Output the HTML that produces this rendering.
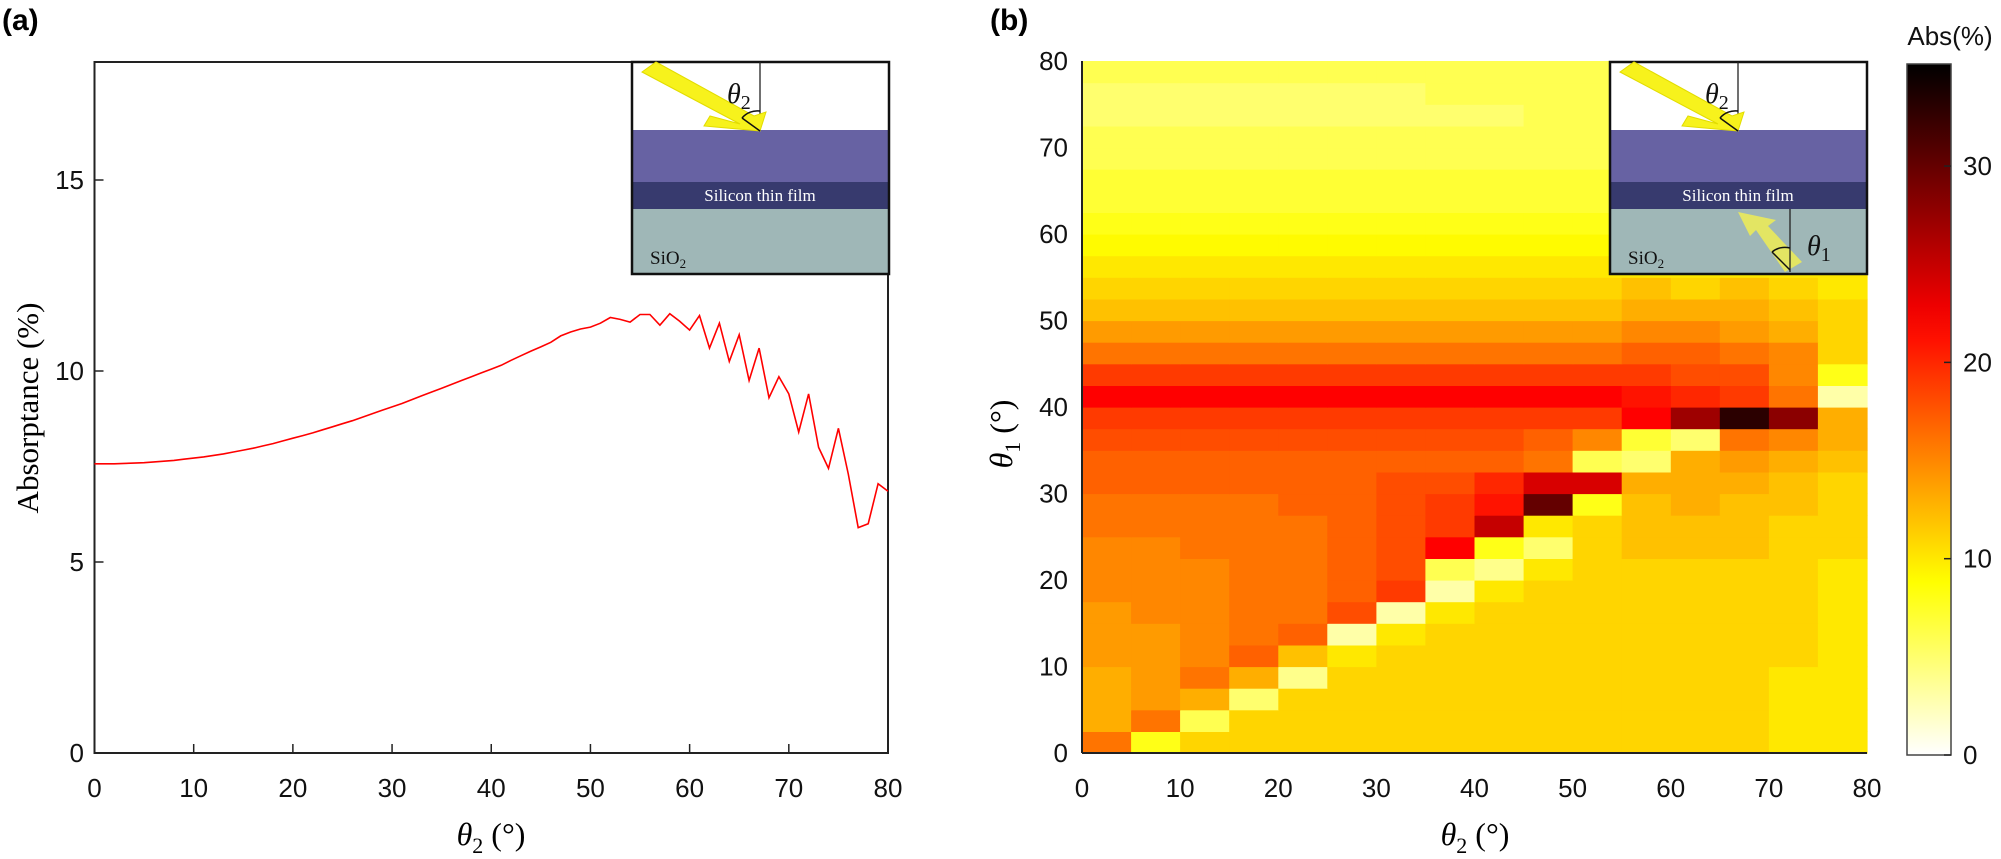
<!DOCTYPE html>
<html><head><meta charset="utf-8"><style>
html,body{margin:0;padding:0;background:#fff;}
svg{display:block;}
.tk{font-family:"Liberation Sans",Arial,sans-serif;font-size:26px;fill:#111;}
.ser{font-family:"Liberation Serif",serif;}
</style></head><body>
<svg id="fig" width="2001" height="859" viewBox="0 0 2001 859" xmlns="http://www.w3.org/2000/svg">
<text x="2" y="30" style="font-family:'Liberation Sans',sans-serif;font-weight:bold;font-size:30px">(a)</text>
<text x="990" y="30" style="font-family:'Liberation Sans',sans-serif;font-weight:bold;font-size:30px">(b)</text>
<g id="chartA"></g>
<g id="chartB"></g>
</svg>
<script>
// ---------- Panel (a) data ----------
const thetaA = Array.from({length:81},(_,i)=>i);
const absorptance = [7.57,7.57,7.57,7.58,7.59,7.6,7.62,7.64,7.66,7.69,7.72,
7.75,7.79,7.83,7.88,7.93,7.98,8.04,8.1,8.17,8.24,
8.31,8.38,8.46,8.54,8.62,8.7,8.79,8.88,8.97,9.06,
9.15,9.25,9.35,9.45,9.55,9.65,9.75,9.85,9.95,10.05,
10.15,10.28,10.4,10.52,10.63,10.75,10.92,11.02,11.1,11.15,
11.25,11.4,11.35,11.28,11.48,11.48,11.2,11.5,11.3,11.07,11.45,
10.6,11.25,10.25,10.95,9.75,10.6,9.3,9.85,9.4,8.4,9.4,8.0,7.45,8.5,7.3,5.9,6.0,7.05,6.85];
const xTicksA = [0,10,20,30,40,50,60,70,80];
const yTicksA = [0,5,10,15];

// ---------- Panel (b) data: rows of 2.5 deg (theta1, bottom->top), cols of 5 deg (theta2) ----------
const theta2Cols = [0,5,10,15,20,25,30,35,40,45,50,55,60,65,70,75];
const theta1Rows = Array.from({length:32},(_,i)=>i*2.5);
const absGrid = [
[16,8,11,11,11,11,11,11,11,11,11,11,11,11,10,10],
[13,16,6,11,11,11,11,11,11,11,11,11,11,11,10,10],
[13,14,13,5,11,11,11,11,11,11,11,11,11,11,10,10],
[13,14,16,13,4,11,11,11,11,11,11,11,11,11,10,10],
[14,14,15,17,12,10,11,11,11,11,11,11,11,11,11,10],
[14,14,15,16,17,3,10,11,11,11,11,11,11,11,11,10],
[14,15,15,16,16,18,3,10,11,11,11,11,11,11,11,10],
[15,15,15,16,16,17,19,3,10,11,11,11,11,11,11,10],
[15,15,15,16,16,17,18,6,4,10,11,11,11,11,11,10],
[15,15,16,16,16,17,18,22,8,5,11,12,12,12,11,11],
[16,16,16,16,16,17,18,19,25,10,11,12,12,12,11,11],
[16,16,16,16,17,17,18,19,21,30,8,12,13,12,12,11],
[17,17,17,17,17,17,18,18,20,24,24,13,13,13,12,11],
[17,17,17,17,17,17,17,17,17,16,6,5,13,14,13,12],
[18,18,18,18,18,18,18,18,18,17,15,7,5,16,15,13],
[19,19,19,19,19,19,19,19,19,19,19,22,27,33,28,13],
[22,22,22,22,22,22,22,22,22,22,22,21,20,19,16,3],
[19,19,19,19,19,19,19,19,19,19,19,19,18,18,15,8],
[16,16,16,16,16,16,16,16,16,16,16,17,17,16,15,11],
[14,14,14,14,14,14,14,14,14,14,14,15,15,14,13,11],
[12,12,12,12,12,12,12,12,12,12,12,13,13,13,12,11],
[11,11,11,11,11,11,11,11,11,11,11,12,11,12,11,10],
[10,10,10,10,10,10,10,10,10,10,10,10,10,10,10,10],
[9,9,9,9,9,9,9,9,9,9,9,9,9,9,9,9],
[8,8,8,8,8,8,8,8,8,8,8,8,8,8,8,8],
[7,7,7,7,7,7,7,7,7,7,7,7,7,7,7,7],
[7,7,7,7,7,7,7,7,7,7,7,7,7,7,7,7],
[6,6,6,6,6,6,6,6,6,6,6,6,6,7,7,7],
[6,6,6,6,6,6,6,6,6,6,6,6,6,6,6,6],
[5,5,5,5,5,5,5,5,5,6,6,6,6,6,6,6],
[5,5,5,5,5,5,5,6,6,6,6,6,6,6,6,6],
[6,6,6,6,6,6,6,6,6,6,6,6,6,6,6,6]];
const xTicksB = [0,10,20,30,40,50,60,70,80];
const yTicksB = [0,10,20,30,40,50,60,70,80];
const cbTicks = [0,10,20,30];
const cbMax = 35.2;

const NS="http://www.w3.org/2000/svg";
function mk(tag,attrs,parent,text){const e=document.createElementNS(NS,tag);for(const k in attrs)e.setAttribute(k,attrs[k]);if(text!==undefined)e.textContent=text;parent.appendChild(e);return e;}

// reversed "hot" colormap
function hotR(v){let t=1-Math.max(0,Math.min(1,v/cbMax));
 let r=Math.min(1,t/0.375),g=Math.max(0,Math.min(1,(t-0.375)/0.375)),b=Math.max(0,Math.min(1,(t-0.75)/0.25));
 return `rgb(${Math.round(r*255)},${Math.round(g*255)},${Math.round(b*255)})`;}

// ---------- Panel A ----------
const A=document.getElementById('chartA');
const ax0=94.5, ax1=888, ay0=753, ayTop=62;
const xA=v=>ax0+(v/80)*(ax1-ax0);
const yA=v=>ay0-v*38.2;
let e;
e=mk('rect',{x:ax0,y:ayTop,width:ax1-ax0,height:ay0-ayTop,fill:'#fff',stroke:'#222','stroke-width':2},A);

xTicksA.forEach(t=>{
 e=mk('line',{x1:xA(t),x2:xA(t),y1:ay0,y2:ay0-9,stroke:'#222','stroke-width':1.5},A);
 
 e=mk('text',{x:xA(t),y:797,'text-anchor':'middle',class:'tk'},A,String(t));
 
});
yTicksA.forEach(t=>{
 e=mk('line',{x1:ax0,x2:ax0+9,y1:yA(t),y2:yA(t),stroke:'#222','stroke-width':1.5},A);
 
 e=mk('text',{x:84,y:yA(t)+9,'text-anchor':'end',class:'tk'},A,String(t));
 
});
e=mk('polyline',{points:thetaA.map((t,i)=>xA(t).toFixed(1)+','+yA(absorptance[i]).toFixed(1)).join(' '),fill:'none',stroke:'#f00','stroke-width':1.6},A);

e=mk('text',{x:0,y:0,transform:'translate(38,408) rotate(-90)','text-anchor':'middle',class:'ser','font-size':'31'},A,'Absorptance (%)');

e=mk('text',{x:491,y:845,'text-anchor':'middle',class:'ser','font-size':'32'},A);
e.innerHTML='<tspan font-style="italic">θ</tspan><tspan font-size="22" dy="8">2</tspan><tspan dy="-8"> (°)</tspan>';


// inset drawing
function inset(parent,x0,withTheta1,name){
 const g=mk('g',{},parent);
 
 const w=257;
 mk('rect',{x:x0,y:62,width:w,height:68,fill:'#fff'},g);
 mk('rect',{x:x0,y:130,width:w,height:52,fill:'#6762a3'},g);
 mk('rect',{x:x0,y:182,width:w,height:27,fill:'#373a6e'},g);
 mk('rect',{x:x0,y:209,width:w,height:65,fill:'#9fb7b7'},g);
 mk('rect',{x:x0,y:62,width:w,height:212,fill:'none',stroke:'#111','stroke-width':2.5},g);
 const vx=x0+128;
 mk('line',{x1:vx,x2:vx,y1:62,y2:131,stroke:'#222','stroke-width':1.3},g);
 mk('polygon',{points:`${x0+10},${72} ${x0+24},${62} ${vx-6},${116} ${vx+6},${112} ${vx},${131} ${x0+72},${126} ${x0+78},${116} ${vx-20},${124}`,fill:'#f7f21c',stroke:'#e2dc00','stroke-width':1},g);
 mk('path',{d:`M ${vx-18} ${118} A 20 20 0 0 1 ${vx} ${111}`,fill:'none',stroke:'#111','stroke-width':1.5},g);
 mk('line',{x1:vx-18,y1:118,x2:vx,y2:131,stroke:'#111','stroke-width':1.5},g);
 let t=mk('text',{x:x0+95,y:103,class:'ser','font-size':'28','font-style':'italic',fill:'#111'},g);
 t.innerHTML='θ<tspan font-size="20" dy="6" font-style="normal">2</tspan>';
 mk('text',{x:x0+128,y:201,'text-anchor':'middle',class:'ser','font-size':'17',fill:'#fff'},g,'Silicon thin film');
 t=mk('text',{x:x0+18,y:264,class:'ser','font-size':'19',fill:'#111'},g);
 t.innerHTML='SiO<tspan font-size="13" dy="4">2</tspan>';
 if(withTheta1){
  const bx=x0+180;
  mk('polygon',{points:`${bx-5},${272} ${bx+12},${262} ${bx-22},${226} ${bx-14},${220} ${bx-52},${212} ${bx-40},${236} ${bx-34},${230}`,fill:'#eaea5a',opacity:0.9},g);
  mk('line',{x1:bx,x2:bx,y1:209,y2:272,stroke:'#222','stroke-width':1.3},g);
  mk('path',{d:`M ${bx-18} ${252} A 20 20 0 0 1 ${bx} ${248}`,fill:'none',stroke:'#111','stroke-width':1.5},g);
  mk('line',{x1:bx-18,y1:252,x2:bx,y2:270,stroke:'#111','stroke-width':1.5},g);
  t=mk('text',{x:bx+17,y:255,class:'ser','font-size':'28','font-style':'italic',fill:'#111'},g);
  t.innerHTML='θ<tspan font-size="20" dy="6" font-style="normal">1</tspan>';
 }
}
inset(A,632,false,'inset-diagram-a');

// ---------- Panel B ----------
const B=document.getElementById('chartB');
const bx0=1082,bx1=1867,by0=753,byTop=61;
const xB=v=>bx0+(v/80)*(bx1-bx0);
const yB=v=>by0-(v/80)*(by0-byTop);
absGrid.forEach((row,r)=>{
 row.forEach((v,c)=>{
  const x=xB(theta2Cols[c]), x2=xB(theta2Cols[c]+5), y=yB(theta1Rows[r]+2.5), y2=yB(theta1Rows[r]);
  const cell=mk('rect',{x:x.toFixed(1),y:y.toFixed(1),width:(x2-x+0.6).toFixed(1),height:(y2-y+0.6).toFixed(1),fill:hotR(v)},B);
  
  
 });
});
e=mk('line',{x1:bx0,x2:bx1,y1:by0,y2:by0,stroke:'#222','stroke-width':2},B);

e=mk('line',{x1:bx0,x2:bx0,y1:byTop,y2:by0,stroke:'#222','stroke-width':2},B);

xTicksB.forEach(t=>{
 e=mk('text',{x:xB(t),y:797,'text-anchor':'middle',class:'tk'},B,String(t));
 
});
yTicksB.forEach(t=>{
 e=mk('text',{x:1068,y:yB(t)+9,'text-anchor':'end',class:'tk'},B,String(t));
 
});
e=mk('text',{x:1475,y:845,'text-anchor':'middle',class:'ser','font-size':'32'},B);
e.innerHTML='<tspan font-style="italic">θ</tspan><tspan font-size="22" dy="8">2</tspan><tspan dy="-8"> (°)</tspan>';

e=mk('text',{x:0,y:0,transform:'translate(1012,434) rotate(-90)','text-anchor':'middle',class:'ser','font-size':'32'},B);
e.innerHTML='<tspan font-style="italic">θ</tspan><tspan font-size="22" dy="8">1</tspan><tspan dy="-8"> (°)</tspan>';

inset(B,1610,true,'inset-diagram-b');

// colorbar
const cx0=1907,cx1=1951,cy0=755,cyTop=64;
const yC=v=>cy0-(v/cbMax)*(cy0-cyTop);
const defs=mk('defs',{},B);
const lg=mk('linearGradient',{id:'cbg',x1:0,y1:1,x2:0,y2:0},defs);
for(let i=0;i<=20;i++){mk('stop',{offset:(i/20),'stop-color':hotR(cbMax*i/20)},lg);}
e=mk('rect',{x:cx0,y:cyTop,width:cx1-cx0,height:cy0-cyTop,fill:'url(#cbg)',stroke:'#444','stroke-width':1.5},B);

cbTicks.forEach(t=>{
 e=mk('line',{x1:cx1-7,x2:cx1,y1:yC(t),y2:yC(t),stroke:'#222','stroke-width':1.5},B);
 
 e=mk('text',{x:1963,y:yC(t)+9,class:'tk'},B,String(t));
 
});
e=mk('text',{x:1950,y:45,'text-anchor':'middle',class:'tk'},B,'Abs(%)');

</script>
</body></html>
